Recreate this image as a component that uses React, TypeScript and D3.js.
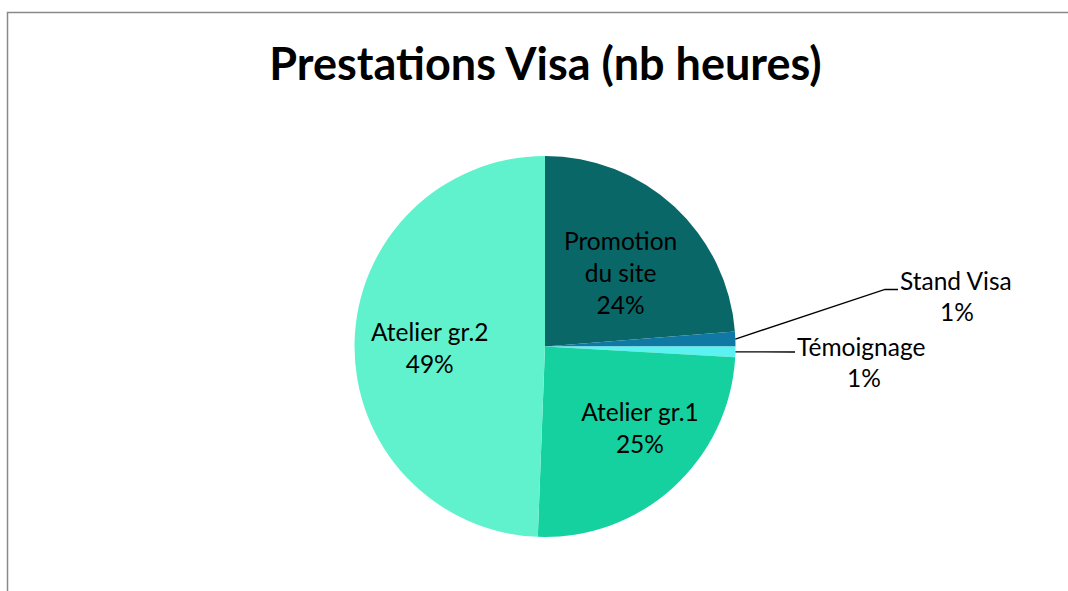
import React from "react";
import * as d3 from "d3";

const categories = ["Promotion du site", "Stand Visa", "Témoignage", "Atelier gr.1", "Atelier gr.2"];
const hours = [23.75, 1.25, 0.9, 24.7, 49.4];
const colors = ["#096767", "#0F78A3", "#5CF2F2", "#15D19F", "#60F2CC"];
const labelLines = [["Promotion", "du site"], ["Stand Visa"], ["Témoignage"], ["Atelier gr.1"], ["Atelier gr.2"]];
const title = "Prestations Visa (nb heures)";

const W = 1068, H = 591;
const cx = 545, cy = 346.5, R = 190.5;
const FONT = "Lato, 'Liberation Sans', sans-serif";
const FS = 24.5;

export default function App() {
  const total = d3.sum(hours);
  const pie = d3.pie<number>().sort(null).value((d) => d).startAngle(0).endAngle(2 * Math.PI);
  const arcs = pie(hours);
  const arc = d3.arc<d3.PieArcDatum<number>>().innerRadius(0).outerRadius(R);
  const labelArc = d3.arc<d3.PieArcDatum<number>>().innerRadius(R * 1.2).outerRadius(0);
  const pct = (v: number) => `${Math.round((v / total) * 100)}%`;

  // outside label elbows (relative to center) for thin slices
  const outside: Record<number, { ex: number; ey: number; tx: number; ty: number; pc: number }> = {
    1: { ex: 340, ey: -57, tx: 355, ty: -63, pc: 57 },
    2: { ex: 250, ey: 5.5, tx: 252, ty: 3, pc: 67 },
  };
  const insideShift: Record<number, [number, number]> = { 0: [-2, 13], 3: [18, 0], 4: [-1, 6] };

  return (
    <svg width={W} height={H} style={{ position: "absolute", left: 0, top: 0 }}>
      <rect x={0} y={0} width={W} height={H} fill="#fff" />
      <path d={`M7.5,${H} L7.5,12.5 L${W},12.5`} fill="none" stroke="#898989" strokeWidth={1.5} />
      <text x={545.5} y={80} textAnchor="middle" fontFamily={FONT} fontWeight={700} fontSize={45} fill="#000">
        {title}
      </text>
      <g transform={`translate(${cx},${cy})`}>
        {arcs.map((a, i) => (
          <path key={i} d={arc(a) || ""} fill={colors[i]} />
        ))}
        {arcs.map((a, i) => {
          const lines = [...labelLines[i], pct(a.data)];
          if (outside[i]) {
            const o = outside[i];
            const mid = (a.startAngle + a.endAngle) / 2;
            const px = Math.sin(mid) * R, py = -Math.cos(mid) * R;
            const first = labelLines[i][0];
            return (
              <g key={"l" + i}>
                <polyline points={`${px},${py} ${o.ex},${o.ey} ${o.tx - 2},${o.ey}`} fill="none" stroke="#000" strokeWidth={1.3} />
                <text x={o.tx} y={o.ty} fontFamily={FONT} fontSize={FS} dominantBaseline="middle" fill="#000">
                  {first}
                </text>
                <text x={o.tx + o.pc} y={o.ty + 31} fontFamily={FONT} fontSize={FS} dominantBaseline="middle" textAnchor="middle" fill="#000">
                  {pct(a.data)}
                </text>
              </g>
            );
          }
          const [lx, ly] = labelArc.centroid(a);
          const [sx, sy] = insideShift[i] || [0, 0];
          const lh = 32;
          const y0 = ly + sy - ((lines.length - 1) * lh) / 2;
          return (
            <text key={"l" + i} fontFamily={FONT} fontSize={FS} textAnchor="middle" fill="#000">
              {lines.map((t, j) => (
                <tspan key={j} x={lx + sx} y={y0 + j * lh} dominantBaseline="middle">
                  {t}
                </tspan>
              ))}
            </text>
          );
        })}
      </g>
    </svg>
  );
}
